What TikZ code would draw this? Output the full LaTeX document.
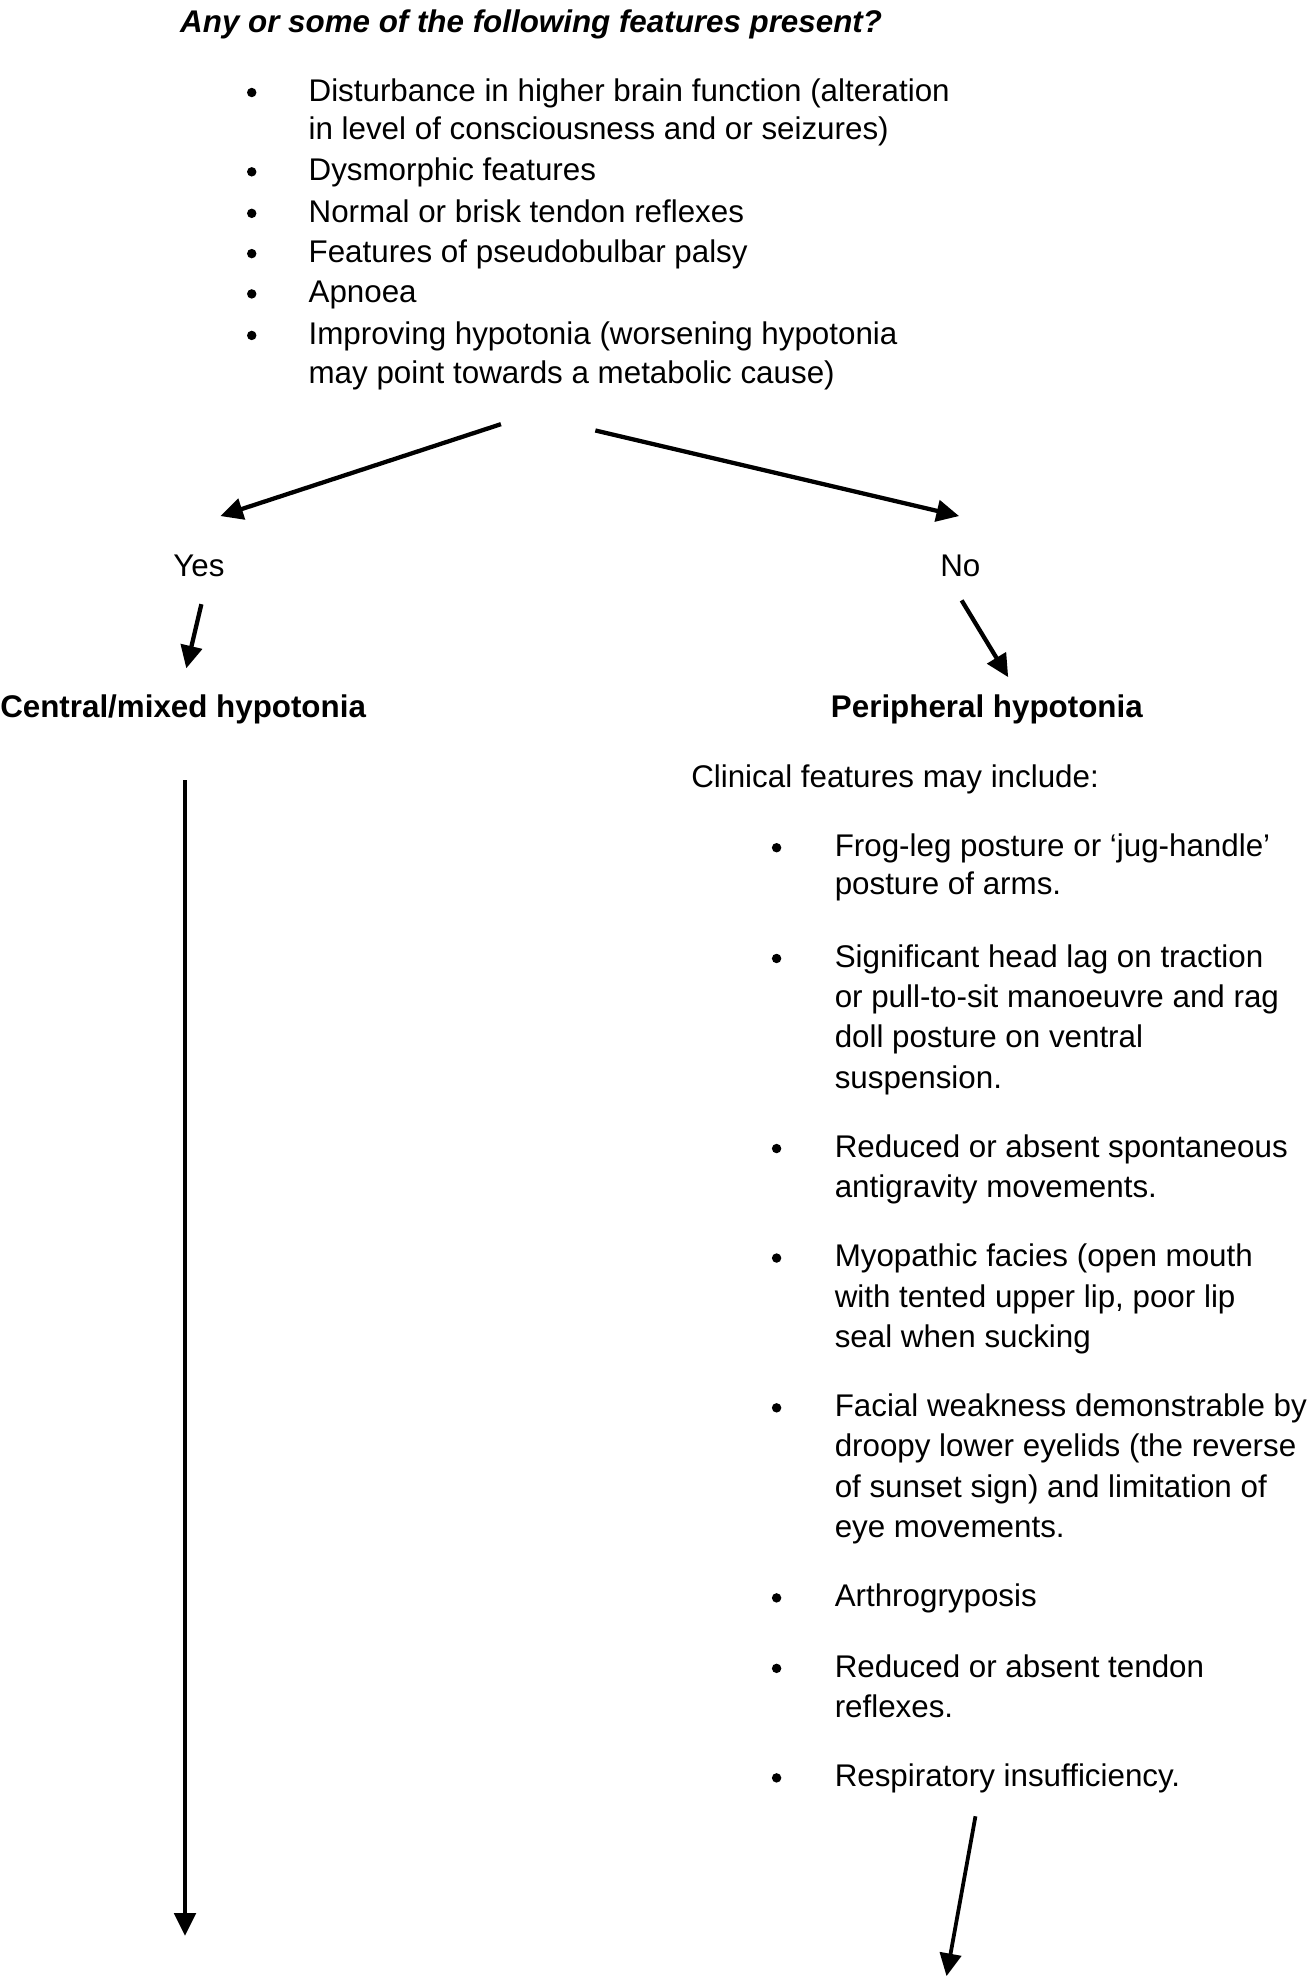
\documentclass[tikz,border=0pt]{standalone}
\usepackage{fontspec}
\setmainfont{Liberation Sans}
\usetikzlibrary{arrows.meta}
\begin{document}
\begin{tikzpicture}[x=1pt,y=-1pt,
  txt/.style={anchor=base west, inner sep=0pt, xshift=2pt, yshift=-3.5pt, font=\fontsize{24.9}{30}\selectfont},
  hdr/.style={anchor=base west, inner sep=0pt, yshift=-3pt, font=\fontsize{24.9}{30}\selectfont\bfseries},
  lbl/.style={anchor=base, inner sep=0pt, yshift=-3pt, font=\fontsize{24.9}{30}\selectfont},
  bul/.style={circle, fill=black, inner sep=0pt, minimum size=7.5pt, yshift=-3.5pt},
  arr/.style={line width=3.4pt, -{Triangle[length=18pt,width=17pt]}},
]
\useasboundingbox (0,0) rectangle (1040,1572.3);

% title
\node[hdr, font=\fontsize{24.9}{30}\selectfont\bfseries\itshape] (title) at (143,23) {Any or some of the following features present?};

% first list
\node[bul] (b1) at (200,70) {};
\node[txt] (t1a) at (243,77) {Disturbance in higher brain function (alteration};
\node[txt] (t1b) at (243,107) {in level of consciousness and or seizures)};
\node[bul] (b2) at (200,133) {};
\node[txt] (t2) at (243,140) {Dysmorphic features};
\node[bul] (b3) at (200,166) {};
\node[txt] (t3) at (243,173) {Normal or brisk tendon reflexes};
\node[bul] (b4) at (200,198) {};
\node[txt] (t4) at (243,205) {Features of pseudobulbar palsy};
\node[bul] (b5) at (200,230) {};
\node[txt] (t5) at (243,237) {Apnoea};
\node[bul] (b6) at (200,263) {};
\node[txt] (t6a) at (243,270) {Improving hypotonia (worsening hypotonia};
\node[txt] (t6b) at (243,301) {may point towards a metabolic cause)};

% branch
\coordinate (sL) at (398,337);
\coordinate (eL) at (175,410);
\coordinate (sR) at (473,342);
\coordinate (eR) at (762,410);
\draw[arr] (sL) -- (eL);
\draw[arr] (sR) -- (eR);

\node[lbl] (yes) at (158,455) {Yes};
\node[lbl] (no) at (763,455) {No};

\coordinate (yA) at (160,480);
\coordinate (yB) at (148,531);
\coordinate (nA) at (764,477);
\coordinate (nB) at (801,538);
\draw[arr] (yA) -- (yB);
\draw[arr] (nA) -- (nB);

\node[hdr] (central) at (0,567) {Central/mixed hypotonia};
\node[hdr] (periph) at (660,567) {Peripheral hypotonia};

\node[txt] (clin) at (547,622) {Clinical features may include:};

% long left arrow
\coordinate (cA) at (147,620);
\coordinate (cB) at (147,1538);
\draw[arr, line width=3pt] (cA) -- (cB);

% second list
\node[bul] (r1) at (617,670) {};
\node[txt] (r1a) at (661,677) {Frog-leg posture or ‘jug-handle’};
\node[txt] (r1b) at (661,707) {posture of arms.};
\node[bul] (r2) at (617,758) {};
\node[txt] (r2a) at (661,765) {Significant head lag on traction};
\node[txt] (r2b) at (661,797) {or pull-to-sit manoeuvre and rag};
\node[txt] (r2c) at (661,829) {doll posture on ventral};
\node[txt] (r2d) at (661,861) {suspension.};
\node[bul] (r3) at (617,909) {};
\node[txt] (r3a) at (661,916) {Reduced or absent spontaneous};
\node[txt] (r3b) at (661,948) {antigravity movements.};
\node[bul] (r4) at (617,996) {};
\node[txt] (r4a) at (661,1003) {Myopathic facies (open mouth};
\node[txt] (r4b) at (661,1035) {with tented upper lip, poor lip};
\node[txt] (r4c) at (661,1067) {seal when sucking};
\node[bul] (r5) at (617,1115) {};
\node[txt] (r5a) at (661,1122) {Facial weakness demonstrable by};
\node[txt] (r5b) at (661,1154) {droopy lower eyelids (the reverse};
\node[txt] (r5c) at (661,1186) {of sunset sign) and limitation of};
\node[txt] (r5d) at (661,1218) {eye movements.};
\node[bul] (r6) at (617,1266) {};
\node[txt] (r6a) at (661,1273) {Arthrogryposis};
\node[bul] (r7) at (617,1322) {};
\node[txt] (r7a) at (661,1329) {Reduced or absent tendon};
\node[txt] (r7b) at (661,1361) {reflexes.};
\node[bul] (r8) at (617,1409) {};
\node[txt] (r8a) at (661,1416) {Respiratory insufficiency.};

% bottom right arrow
\coordinate (pA) at (775,1443);
\coordinate (pB) at (752,1570);
\draw[arr, line width=3pt] (pA) -- (pB);
\end{tikzpicture}
\end{document}
